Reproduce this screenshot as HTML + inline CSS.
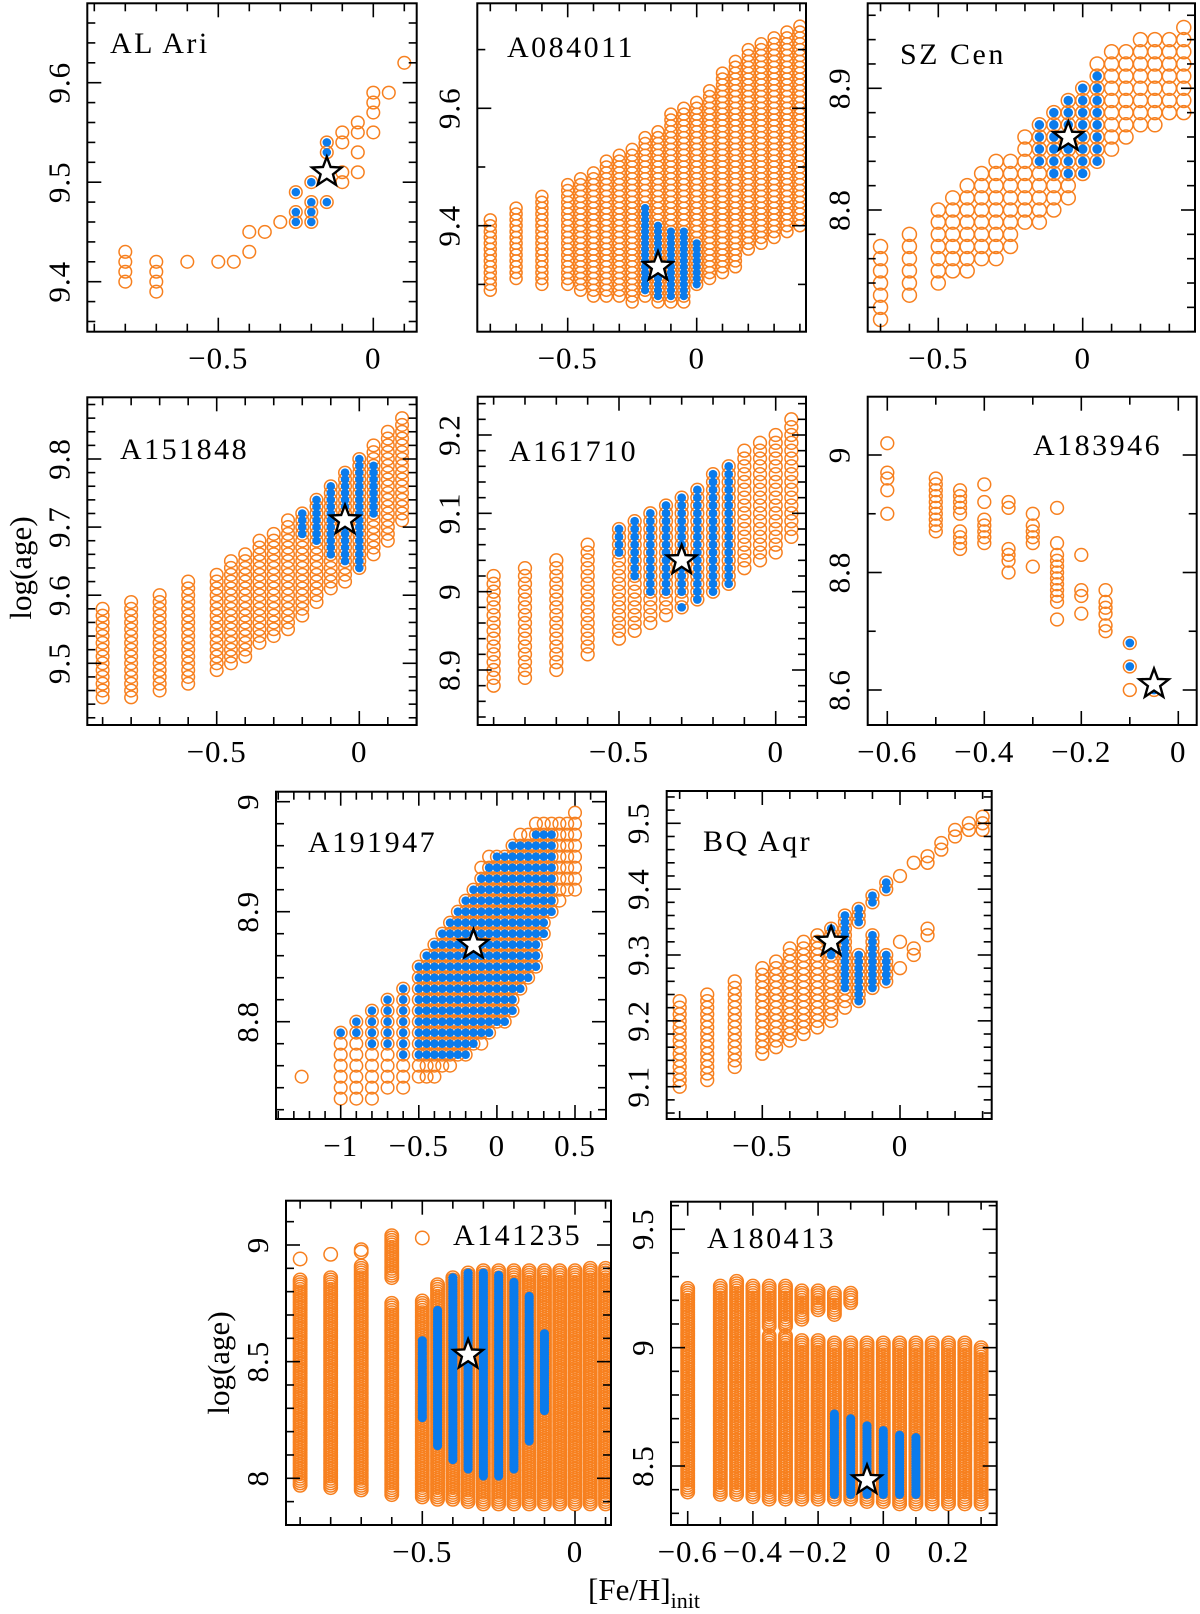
<!DOCTYPE html>
<html><head><meta charset="utf-8">
<style>
html,body{margin:0;padding:0;background:#fff;}
svg{display:block;font-family:"Liberation Serif","DejaVu Serif",serif;}
</style></head>
<body>
<svg id="fig" xmlns="http://www.w3.org/2000/svg" width="1200" height="1614" viewBox="0 0 1200 1614">
<text transform="translate(31,568) rotate(-90)" text-anchor="middle" font-size="31">log(age)</text>
<text transform="translate(229,1363) rotate(-90)" text-anchor="middle" font-size="31">log(age)</text>
<text x="588" y="1600" font-size="31">[Fe/H]<tspan font-size="22" dy="8">init</tspan></text>
</svg>
<script>
// ---- data: segments [feh, ageHigh, ageLow] ----
const p1Orange=[[-0.8,9.43,9.40],[-0.7,9.42,9.39],[-0.6,9.42,9.42],[-0.5,9.42,9.42],[-0.45,9.42,9.42],[-0.4,9.45,9.45],[-0.4,9.43,9.43],[-0.35,9.45,9.45],[-0.3,9.46,9.46],[-0.25,9.49,9.49],[-0.25,9.47,9.46],[-0.2,9.50,9.50],[-0.2,9.48,9.46],[-0.15,9.54,9.53],[-0.15,9.48,9.48],[-0.1,9.55,9.54],[-0.1,9.51,9.50],[-0.05,9.56,9.55],[-0.05,9.53,9.53],[-0.05,9.51,9.51],[0,9.59,9.57],[0,9.55,9.55],[0.05,9.59,9.59],[0.1,9.62,9.62]];
const p1Blue=[[-0.25,9.49,9.49],[-0.25,9.47,9.46],[-0.2,9.50,9.50],[-0.2,9.48,9.46],[-0.15,9.54,9.53],[-0.15,9.48,9.48]];
const p1Star=[-0.15,9.51];

const p2Orange=[[-0.8,9.41,9.29],[-0.7,9.43,9.31],[-0.6,9.45,9.30],[-0.5,9.47,9.30],[-0.45,9.48,9.29],[-0.4,9.49,9.28],[-0.35,9.51,9.28],[-0.3,9.52,9.28],[-0.25,9.53,9.27],[-0.2,9.55,9.28],[-0.15,9.56,9.27],[-0.1,9.59,9.27],[-0.05,9.60,9.27],[0,9.61,9.30],[0.05,9.63,9.31],[0.1,9.66,9.32],[0.15,9.68,9.33],[0.2,9.70,9.36],[0.25,9.71,9.37],[0.3,9.72,9.38],[0.35,9.73,9.39],[0.4,9.74,9.40]];
const p2Blue=[[-0.2,9.43,9.29],[-0.15,9.40,9.28],[-0.1,9.39,9.28],[-0.05,9.39,9.28],[0,9.37,9.30]];
const p2Star=[-0.15,9.33];

const p3Orange=[[-0.7,8.77,8.71],[-0.6,8.78,8.73],[-0.5,8.80,8.74],[-0.45,8.81,8.75],[-0.4,8.82,8.75],[-0.35,8.83,8.76],[-0.3,8.84,8.76],[-0.25,8.84,8.77],[-0.2,8.86,8.79],[-0.15,8.87,8.79],[-0.1,8.88,8.80],[-0.05,8.89,8.81],[0,8.90,8.83],[0.05,8.92,8.84],[0.1,8.93,8.85],[0.15,8.93,8.86],[0.2,8.94,8.87],[0.25,8.94,8.87],[0.3,8.94,8.88],[0.35,8.95,8.88]];
const p3Blue=[[-0.15,8.87,8.84],[-0.1,8.88,8.83],[-0.05,8.89,8.83],[0,8.90,8.83],[0.05,8.91,8.84]];
const p3Star=[-0.05,8.86];

const p4Orange=[[-0.9,9.58,9.45],[-0.8,9.59,9.45],[-0.7,9.60,9.46],[-0.6,9.62,9.47],[-0.5,9.63,9.49],[-0.45,9.65,9.50],[-0.4,9.66,9.51],[-0.35,9.68,9.53],[-0.3,9.69,9.54],[-0.25,9.71,9.55],[-0.2,9.72,9.57],[-0.15,9.74,9.59],[-0.1,9.76,9.61],[-0.05,9.78,9.62],[0,9.80,9.64],[0.05,9.82,9.66],[0.1,9.84,9.68],[0.15,9.86,9.71]];
const p4Blue=[[-0.2,9.72,9.69],[-0.15,9.74,9.68],[-0.1,9.76,9.66],[-0.05,9.78,9.65],[0,9.80,9.64],[0.05,9.79,9.72]];
const p4Star=[-0.05,9.71];

const p5Orange=[[-0.9,9.02,8.88],[-0.8,9.03,8.89],[-0.7,9.04,8.90],[-0.6,9.06,8.92],[-0.5,9.08,8.94],[-0.45,9.09,8.95],[-0.4,9.10,8.96],[-0.35,9.11,8.97],[-0.3,9.12,8.98],[-0.25,9.13,8.99],[-0.2,9.15,9.00],[-0.15,9.16,9.01],[-0.1,9.18,9.03],[-0.05,9.19,9.04],[0,9.20,9.05],[0.05,9.22,9.07]];
const p5Blue=[[-0.5,9.08,9.05],[-0.45,9.09,9.02],[-0.4,9.10,9.00],[-0.35,9.11,9.00],[-0.3,9.12,9.00],[-0.3,8.98,8.98],[-0.25,9.13,8.99],[-0.2,9.15,9.00],[-0.15,9.16,9.01]];
const p5Star=[-0.3,9.04];

const p6Orange=[[-0.6,9.02,9.02],[-0.6,8.97,8.96],[-0.6,8.94,8.94],[-0.6,8.90,8.90],[-0.5,8.96,8.87],[-0.45,8.94,8.90],[-0.45,8.87,8.84],[-0.4,8.95,8.95],[-0.4,8.92,8.92],[-0.4,8.89,8.85],[-0.35,8.92,8.91],[-0.35,8.84,8.82],[-0.35,8.80,8.80],[-0.3,8.90,8.90],[-0.3,8.88,8.85],[-0.3,8.81,8.81],[-0.25,8.91,8.91],[-0.25,8.85,8.85],[-0.25,8.83,8.75],[-0.25,8.72,8.72],[-0.2,8.83,8.83],[-0.2,8.77,8.76],[-0.2,8.73,8.73],[-0.15,8.77,8.77],[-0.15,8.75,8.73],[-0.15,8.71,8.70],[-0.1,8.68,8.68],[-0.1,8.64,8.64],[-0.1,8.60,8.60],[-0.05,8.60,8.60]];
const p6Blue=[[-0.1,8.68,8.68],[-0.1,8.64,8.64],[-0.05,8.60,8.60]];
const p6Star=[-0.05,8.61];

const p7Orange=[[-1.25,8.75,8.75],[-1.0,8.79,8.73],[-0.9,8.80,8.73],[-0.8,8.81,8.73],[-0.7,8.82,8.74],[-0.6,8.83,8.74],[-0.5,8.85,8.75],[-0.45,8.86,8.75],[-0.4,8.87,8.75],[-0.35,8.88,8.76],[-0.3,8.89,8.76],[-0.25,8.90,8.77],[-0.2,8.91,8.77],[-0.15,8.92,8.78],[-0.1,8.94,8.78],[-0.05,8.95,8.79],[0,8.95,8.80],[0.05,8.95,8.80],[0.1,8.96,8.81],[0.15,8.97,8.83],[0.2,8.97,8.84],[0.25,8.98,8.85],[0.3,8.98,8.88],[0.35,8.98,8.90],[0.4,8.98,8.91],[0.45,8.98,8.92],[0.5,8.99,8.92]];
const p7Blue=[[-1.0,8.79,8.79],[-0.9,8.80,8.79],[-0.8,8.81,8.78],[-0.7,8.82,8.78],[-0.6,8.83,8.77],[-0.5,8.85,8.77],[-0.45,8.86,8.77],[-0.4,8.87,8.77],[-0.35,8.88,8.77],[-0.3,8.89,8.77],[-0.25,8.90,8.77],[-0.2,8.91,8.77],[-0.15,8.92,8.78],[-0.1,8.93,8.79],[-0.05,8.94,8.79],[0,8.95,8.80],[0.05,8.95,8.80],[0.1,8.96,8.81],[0.15,8.96,8.83],[0.2,8.96,8.84],[0.25,8.97,8.85],[0.3,8.97,8.88],[0.35,8.97,8.90]];
const p7Star=[-0.15,8.87];

const p8Orange=[[-0.8,9.23,9.10],[-0.7,9.24,9.11],[-0.6,9.26,9.13],[-0.5,9.28,9.15],[-0.45,9.29,9.16],[-0.4,9.31,9.17],[-0.35,9.32,9.18],[-0.3,9.33,9.19],[-0.25,9.34,9.20],[-0.2,9.36,9.22],[-0.15,9.37,9.35],[-0.15,9.30,9.23],[-0.1,9.39,9.38],[-0.1,9.33,9.25],[-0.05,9.41,9.40],[-0.05,9.30,9.26],[0,9.42,9.42],[0,9.32,9.32],[0,9.28,9.28],[0.05,9.44,9.44],[0.05,9.31,9.30],[0.1,9.45,9.44],[0.1,9.34,9.33],[0.15,9.47,9.46],[0.2,9.49,9.48],[0.25,9.50,9.49],[0.3,9.51,9.49]];
const p8Blue=[[-0.25,9.34,9.30],[-0.2,9.36,9.25],[-0.15,9.37,9.35],[-0.15,9.30,9.23],[-0.1,9.39,9.38],[-0.1,9.33,9.25],[-0.05,9.41,9.40],[-0.05,9.30,9.26]];
const p8Star=[-0.25,9.32];

const p9Orange=[[-0.9,8.94,8.94],[-0.9,8.85,7.97],[-0.8,8.96,8.96],[-0.8,8.86,7.96],[-0.7,8.98,8.97],[-0.7,8.91,7.95],[-0.6,9.04,8.86],[-0.6,8.75,7.93],[-0.5,9.03,9.03],[-0.5,8.76,7.92],[-0.45,8.83,7.91],[-0.4,8.86,7.91],[-0.35,8.88,7.90],[-0.3,8.89,7.89],[-0.25,8.89,7.89],[-0.2,8.89,7.89],[-0.15,8.89,7.89],[-0.1,8.89,7.89],[-0.05,8.89,7.89],[0,8.89,7.89],[0.05,8.90,7.89],[0.1,8.90,7.89]];
const p9Blue=[[-0.5,8.59,8.26],[-0.45,8.72,8.14],[-0.4,8.86,8.08],[-0.35,8.88,8.04],[-0.3,8.88,8.01],[-0.25,8.87,8.01],[-0.2,8.84,8.04],[-0.15,8.78,8.16],[-0.1,8.62,8.29]];
const p9Star=[-0.35,8.53];

const p10Orange=[[-0.6,9.25,8.39],[-0.5,9.26,8.38],[-0.45,9.28,8.38],[-0.4,9.26,8.37],[-0.35,9.26,9.09],[-0.35,9.05,8.36],[-0.3,9.26,9.09],[-0.3,9.05,8.36],[-0.25,9.24,9.12],[-0.25,9.03,8.36],[-0.2,9.24,9.16],[-0.2,9.03,8.36],[-0.15,9.23,9.14],[-0.15,9.02,8.36],[-0.1,9.23,9.19],[-0.1,9.02,8.36],[-0.05,9.02,8.35],[0,9.02,8.35],[0.05,9.02,8.34],[0.1,9.02,8.34],[0.15,9.02,8.34],[0.2,9.02,8.34],[0.25,9.02,8.34],[0.3,9.00,8.34]];
const p10Blue=[[-0.15,8.72,8.38],[-0.1,8.70,8.38],[-0.05,8.67,8.38],[0,8.65,8.38],[0.05,8.63,8.38],[0.1,8.62,8.38]];
const p10Star=[-0.05,8.44];

// ---- tick label arrays ----
const p1XTicks=[-0.5,0], p1YTicks=[9.4,9.5,9.6];
const p2XTicks=[-0.5,0], p2YTicks=[9.4,9.6];
const p3XTicks=[-0.5,0], p3YTicks=[8.8,8.9];
const p4XTicks=[-0.5,0], p4YTicks=[9.5,9.6,9.7,9.8];
const p5XTicks=[-0.5,0], p5YTicks=[8.9,9,9.1,9.2];
const p6XTicks=[-0.6,-0.4,-0.2,0], p6YTicks=[8.6,8.8,9];
const p7XTicks=[-1,-0.5,0,0.5], p7YTicks=[8.8,8.9,9];
const p8XTicks=[-0.5,0], p8YTicks=[9.1,9.2,9.3,9.4,9.5];
const p9XTicks=[-0.5,0], p9YTicks=[8,8.5,9];
const p10XTicks=[-0.6,-0.4,-0.2,0,0.2], p10YTicks=[8.5,9,9.5];

const NS='http://www.w3.org/2000/svg';
const svg=document.getElementById('fig');
const ORANGE='#f7801f', BLUE='#0a7bec';
function mk(tag,attrs,parent){const e=document.createElementNS(NS,tag);for(const k in attrs)e.setAttribute(k,attrs[k]);parent.appendChild(e);return e;}
function fmt(v){let s=(Math.round(v*10)/10).toString();return s.replace('-','\u2212');}

const panels=[
 {id:'al-ari',title:'AL Ari',tx:110,ty:53,F:[87.3,416.7,3.3,331.7],xr:[-0.5,218.3,0,373.3],yr:[9.4,281.7,9.6,82.7],xm:0.1,ym:0.02,xt:p1XTicks,yt:p1YTicks,o:p1Orange,b:p1Blue,s:p1Star,r:6.3},
 {id:'a084011',title:'A084011',tx:507,ty:57,F:[477.3,806,3.3,331.7],xr:[-0.5,567.7,0,696.7],yr:[9.4,225.7,9.6,108.3],xm:0.1,ym:0.1,xt:p2XTicks,yt:p2YTicks,o:p2Orange,b:p2Blue,s:p2Star,r:6.0},
 {id:'sz-cen',title:'SZ Cen',tx:900,ty:64,F:[867.7,1195,3.3,331.7],xr:[-0.5,938.3,0,1082.7],yr:[8.8,210,8.9,88.3],xm:0.1,ym:0.02,xt:p3XTicks,yt:p3YTicks,o:p3Orange,b:p3Blue,s:p3Star,r:7.0},
 {id:'a151848',title:'A151848',tx:120,ty:459,F:[87.3,416.7,397.3,725],xr:[-0.5,216.7,0,359.3],yr:[9.5,663.3,9.8,459],xm:0.1,ym:0.02,xt:p4XTicks,yt:p4YTicks,o:p4Orange,b:p4Blue,s:p4Star,r:6.3},
 {id:'a161710',title:'A161710',tx:509,ty:461,F:[477.7,806,396.7,725],xr:[-0.5,619,0,775.7],yr:[8.9,670,9.2,435],xm:0.1,ym:0.02,xt:p5XTicks,yt:p5YTicks,o:p5Orange,b:p5Blue,s:p5Star,r:6.4},
 {id:'a183946',title:'A183946',tx:1033,ty:455,F:[867.7,1196.7,396.7,725],xr:[-0.6,887.3,0,1178.3],yr:[8.6,690,9.0,455],xm:0.1,ym:0.1,xt:p6XTicks,yt:p6YTicks,o:p6Orange,b:p6Blue,s:p6Star,r:6.4},
 {id:'a191947',title:'A191947',tx:308,ty:852,F:[276,606,791.7,1119],xr:[-1,340.7,0.5,575],yr:[8.8,1021.7,8.9,911.7],xm:0.1,ym:0.02,xt:p7XTicks,yt:p7YTicks,o:p7Orange,b:p7Blue,s:p7Star,r:6.3},
 {id:'bq-aqr',title:'BQ Aqr',tx:703,ty:851,F:[666.7,991.7,791,1119],xr:[-0.5,762.3,0,900],yr:[9.1,1086.7,9.5,823.3],xm:0.1,ym:0.02,xt:p8XTicks,yt:p8YTicks,o:p8Orange,b:p8Blue,s:p8Star,r:6.4},
 {id:'a141235',title:'A141235',tx:453,ty:1245,F:[286,611,1200.7,1525],xr:[-0.5,422.3,0,575],yr:[8,1478.3,9,1245],xm:0.1,ym:0.1,xt:p9XTicks,yt:p9YTicks,o:p9Orange,b:p9Blue,s:p9Star,r:6.7},
 {id:'a180413',title:'A180413',tx:707,ty:1248,F:[671,996.7,1201.7,1525],xr:[-0.6,687.7,0,883.3],yr:[8.5,1466,9.5,1229.3],xm:0.1,ym:0.1,xt:p10XTicks,yt:p10YTicks,o:p10Orange,b:p10Blue,s:p10Star,r:6.7}
];

function drawPanel(p){
  const [L,R,T,B]=p.F;
  const sx=(p.xr[3]-p.xr[1])/(p.xr[2]-p.xr[0]);
  const sy=(p.yr[3]-p.yr[1])/(p.yr[2]-p.yr[0]);
  const X=v=>p.xr[1]+(v-p.xr[0])*sx;
  const Y=v=>p.yr[1]+(v-p.yr[0])*sy;
  const xmin=p.xr[0]+(L-p.xr[1])/sx, xmax=p.xr[0]+(R-p.xr[1])/sx;
  const ymin=p.yr[0]+(B-p.yr[1])/sy, ymax=p.yr[0]+(T-p.yr[1])/sy;
  const g=mk('g',{},svg);
  
  
  const cp='clip-'+p.id;
  const defs=mk('defs',{},g);
  const c=mk('clipPath',{id:cp},defs);
  mk('rect',{x:L,y:T,width:R-L,height:B-T},c);
  const data=mk('g',{'clip-path':'url(#'+cp+')'},g);
  const og=mk('g',{fill:'none',stroke:ORANGE,'stroke-width':1.5},data);
  
  
  p.o.forEach(s=>{const n=Math.round((s[1]-s[2])/0.01);for(let i=0;i<=n;i++){
    const ci=mk('circle',{cx:X(s[0]),cy:Y(s[2]+i*0.01),r:p.r},og);
    
    }});
  const bg=mk('g',{fill:BLUE},data);
  
  
  p.b.forEach(s=>{const n=Math.round((s[1]-s[2])/0.01);for(let i=0;i<=n;i++){
    const ci=mk('circle',{cx:X(s[0]),cy:Y(s[2]+i*0.01),r:p.r*0.68},bg);
    
    }});
  const cx=X(p.s[0]),cy=Y(p.s[1]);let pts=[];
  for(let k=0;k<10;k++){const rr=k%2?6.5:15.5;const a=-Math.PI/2+k*Math.PI/5;pts.push((cx+rr*Math.cos(a)).toFixed(1)+','+(cy+rr*Math.sin(a)).toFixed(1));}
  const st=mk('polygon',{points:pts.join(' '),fill:'#fff',stroke:'#000','stroke-width':2.4,'stroke-linejoin':'miter'},data);
  
  
  const fr=mk('rect',{x:L,y:T,width:R-L,height:B-T,fill:'none',stroke:'#000','stroke-width':2},g);
  
  
  const tg=mk('g',{stroke:'#000','stroke-width':1.6},g);
  
  
  const isMaj=(v,arr)=>arr.some(a=>Math.abs(a-v)<1e-6);
  for(let i=Math.ceil(xmin/p.xm-1e-6);i<=Math.floor(xmax/p.xm+1e-6);i++){
    const v=i*p.xm,x=X(v),len=isMaj(v,p.xt)?14:8;
    mk('line',{x1:x,y1:B,x2:x,y2:B-len},tg);mk('line',{x1:x,y1:T,x2:x,y2:T+len},tg);}
  for(let i=Math.ceil(ymin/p.ym-1e-6);i<=Math.floor(ymax/p.ym+1e-6);i++){
    const v=i*p.ym,y=Y(v),len=isMaj(v,p.yt)?14:8;
    mk('line',{x1:L,y1:y,x2:L+len,y2:y},tg);mk('line',{x1:R,y1:y,x2:R-len,y2:y},tg);}
  p.xt.forEach(v=>{const t=mk('text',{x:X(v),y:B+37,'text-anchor':'middle','font-size':31,'letter-spacing':1},g);t.textContent=fmt(v);
    
    });
  p.yt.forEach(v=>{const t=mk('text',{transform:'translate('+(L-18)+','+Y(v)+') rotate(-90)','text-anchor':'middle','font-size':31,'letter-spacing':1},g);t.textContent=fmt(v);
    
    });
  const ti=mk('text',{x:p.tx,y:p.ty,'font-size':30,'letter-spacing':2.5},g);ti.textContent=p.title;
  
  
}
panels.forEach(drawPanel);
</script>
</body></html>
